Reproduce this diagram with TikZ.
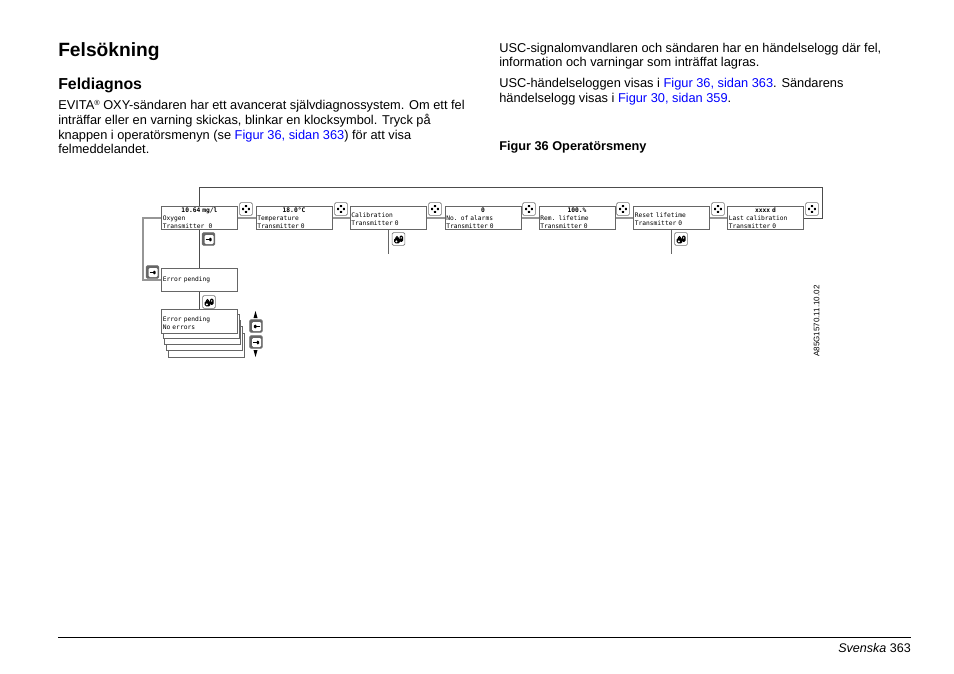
\documentclass[tikz,border=0pt]{standalone}
\usepackage{fontspec}
\setmainfont{Liberation Sans}
\newfontfamily\lcdfont[WordSpace=1.4]{DejaVu Sans Mono}
\usepackage{tikz}
\definecolor{linkblue}{RGB}{0,0,255}
\definecolor{wiregray}{RGB}{150,150,150}
\newcommand{\lnk}[1]{\textcolor{linkblue}{#1}}
\tikzset{
    % display panels of the menu
    panel/.style={
        draw=black!60, fill=white, line width=0.75pt,
        minimum width=57pt, minimum height=17.4pt,
        text width=55pt, inner sep=1pt, align=left,
        font=\lcdfont\fontsize{4.7}{5.9}\selectfont
    },
    wire/.style={line width=0.85pt, wiregray},
    thinwire/.style={line width=0.5pt, black!60},
    darkwire/.style={line width=0.75pt, black!70},
    bodytext/.style={anchor=base west, inner sep=0pt, font=\fontsize{9.6}{11}\selectfont},
    % key symbols
    key/.style={
        draw=black!55, fill=white, line width=0.5pt, rounded corners=1pt,
        minimum size=9.6pt, inner sep=0pt
    },
    navkey/.style={key, path picture={
        \fill[black] (0,3.7pt) -- (-1.5pt,1.4pt) -- (1.5pt,1.4pt) -- cycle;
        \fill[black] (0,-3.7pt) -- (-1.5pt,-1.4pt) -- (1.5pt,-1.4pt) -- cycle;
        \fill[black] (3.7pt,0) -- (1.4pt,-1.5pt) -- (1.4pt,1.5pt) -- cycle;
        \fill[black] (-3.7pt,0) -- (-1.4pt,-1.5pt) -- (-1.4pt,1.5pt) -- cycle;
    }},
    rightkey/.style={key, fill=black!60, path picture={
        \fill[white] (-3pt,-3.8pt) rectangle (3.9pt,3pt);
        \draw[black, line width=0.8pt] (-2.2pt,-0.4pt) -- (1pt,-0.4pt);
        \fill[black] (3.2pt,-0.4pt) -- (0.6pt,1.6pt) -- (0.6pt,-2.4pt) -- cycle;
    }},
    leftkey/.style={key, fill=black!60, path picture={
        \fill[white] (-3pt,-3.8pt) rectangle (3.9pt,3pt);
        \draw[black, line width=0.8pt] (3.2pt,-0.4pt) -- (0pt,-0.4pt);
        \fill[black] (-2.4pt,-0.4pt) -- (0.2pt,1.6pt) -- (0.2pt,-2.4pt) -- cycle;
    }},
    lockkey/.style={key, path picture={
        \fill[black] (-3.2pt,-3.2pt) rectangle (1pt,0.8pt);
        \draw[black, line width=0.8pt] (-2.1pt,0.8pt) arc[start angle=180, end angle=0, radius=1pt];
        \fill[black] (0.8pt,-2.2pt) rectangle (3.4pt,2.6pt);
        \fill[white] (-1.6pt,-1.8pt) circle (0.8pt);
        \fill[white] (2pt,0.8pt) circle (0.6pt);
    }}
}

\begin{document}
\begin{tikzpicture}[x=0.75pt, y=-0.75pt]
    \useasboundingbox (0,0) rectangle (954,674);

    % page text
    \node[anchor=base west, inner sep=0pt, font=\fontsize{14.4}{16}\selectfont\bfseries] (title) at (58,57) {Felsökning};
    \node[anchor=base west, inner sep=0pt, font=\fontsize{11.9}{14}\selectfont\bfseries] (subtitle) at (58,90) {Feldiagnos};
    \node[bodytext] (lineA) at (58,109.5) {EVITA\raisebox{3pt}{\fontsize{5.5}{6}\selectfont ®} OXY-sändaren har ett avancerat självdiagnossystem. Om ett fel};
    \node[bodytext] (lineB) at (58,124) {inträffar eller en varning skickas, blinkar en klocksymbol. Tryck på};
    \node[bodytext] (lineC) at (58,139) {knappen i operatörsmenyn (se \lnk{Figur 36, sidan 363}) för att visa};
    \node[bodytext] (lineD) at (58,153) {felmeddelandet.};
    \node[bodytext] (lineE) at (499,52.5) {USC-signalomvandlaren och sändaren har en händelselogg där fel,};
    \node[bodytext] (lineF) at (499,67) {information och varningar som inträffat lagras.};
    \node[bodytext] (lineG) at (499,87.5) {USC-händelseloggen visas i \lnk{Figur 36, sidan 363}. Sändarens};
    \node[bodytext] (lineH) at (499,102.5) {händelselogg visas i \lnk{Figur 30, sidan 359}.};
    \node[anchor=base west, inner sep=0pt, font=\fontsize{9.55}{11}\selectfont\bfseries] (caption) at (499,151) {Figur 36 Operatörsmeny};

    % footer
    \coordinate (ruleL) at (58,637.5);
    \coordinate (ruleR) at (911,637.5);
    \draw[line width=0.6pt] (ruleL) -- (ruleR);
    \node[anchor=base east, inner sep=0pt, font=\fontsize{9.4}{11}\selectfont] (footer) at (911,652.5) {\textit{Svenska} 363};

    % connectors
    \coordinate (topL) at (199.5,187);
    \coordinate (topR) at (822,187);
    \coordinate (endR) at (822,218);
    \coordinate (sideA) at (143,218);
    \coordinate (sideB) at (143,280);
    \coordinate (stubC) at (388,254);
    \coordinate (stubF) at (671.5,254);

    % menu panels
    \node[panel] (oxygen) at (199.5,218) {\makebox[55pt][c]{\bfseries 10.64 mg/l}\\Oxygen\\Transmitter\ \ 0};
    \node[panel] (temp) at (294,218) {\makebox[55pt][c]{\bfseries 18.0°C}\\Temperature\\Transmitter 0};
    \node[panel] (calib) at (388,218) {\mbox{}\\Calibration\\Transmitter 0};
    \node[panel] (alarms) at (483,218) {\makebox[55pt][c]{\bfseries 0}\\No. of alarms\\Transmitter 0};
    \node[panel] (lifetime) at (577,218) {\makebox[55pt][c]{\bfseries 100.\%}\\Rem. lifetime\\Transmitter 0};
    \node[panel] (reset) at (671.5,218) {\mbox{}\\Reset lifetime\\Transmitter 0};
    \node[panel] (lastcal) at (765.5,218) {\makebox[55pt][c]{\bfseries xxxx d}\\Last calibration\\Transmitter 0};
    \node[panel] (error) at (199.5,280) {Error pending};

    % nav keys
    \node[navkey] (navA) at (246,209) {};
    \node[navkey] (navB) at (341,209) {};
    \node[navkey] (navC) at (435,209) {};
    \node[navkey] (navD) at (529,209) {};
    \node[navkey] (navE) at (623,209) {};
    \node[navkey] (navF) at (718,209) {};
    \node[navkey] (navG) at (812,209) {};

    \draw[wire] (oxygen) -- (temp);
    \draw[wire] (temp) -- (calib);
    \draw[wire] (calib) -- (alarms);
    \draw[wire] (alarms) -- (lifetime);
    \draw[wire] (lifetime) -- (reset);
    \draw[wire] (reset) -- (lastcal);
    \draw[darkwire] (lastcal) -- (endR) -- (topR) -- (topL) -- (oxygen);
    \draw[wire] (oxygen) -- (sideA) -- (sideB) -- (error);
    \draw[darkwire] (oxygen) -- (error);
    \draw[thinwire] (calib) -- (stubC);
    \draw[thinwire] (reset) -- (stubF);

    % error list
    \node[panel] (stackE) at (206,345.5) {};
    \node[panel] (stackD) at (204,338.5) {};
    \node[panel] (stackC) at (202.5,332.5) {};
    \node[panel] (stackB) at (201,326.5) {};
    \node[panel] (stackA) at (199.5,321.5) {\mbox{}\\Error pending\\No errors};
    \draw[darkwire] (error) -- (stackA);

    % other keys
    \node[rightkey] (enterA) at (208.5,239) {};
    \node[rightkey] (enterB) at (152.5,272) {};
    \node[lockkey] (lockA) at (209,302) {};
    \node[lockkey] (lockB) at (398.5,239) {};
    \node[lockkey] (lockC) at (681,239) {};
    \node[leftkey] (keyUp) at (256,326) {};
    \node[rightkey] (keyDown) at (256,342) {};
    \coordinate (tipUp) at (255.5,311);
    \coordinate (tipDown) at (255.5,357);
    \fill (tipUp) -- ++(-2,7) -- ++(4,0) -- cycle;
    \fill (tipDown) -- ++(-2,-7) -- ++(4,0) -- cycle;

    \node[rotate=90, inner sep=0pt, font=\fontsize{6}{7}\selectfont] (partno) at (816.5,321) {A85G1570.11.10.02};
\end{tikzpicture}
\end{document}
